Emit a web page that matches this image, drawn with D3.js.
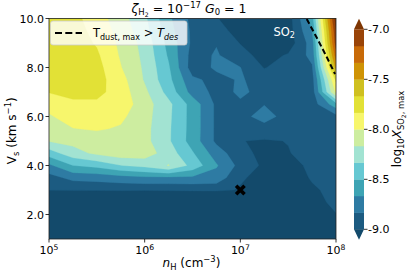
<!DOCTYPE html>
<html><head><meta charset="utf-8">
<script src="https://cdn.jsdelivr.net/npm/d3@7"></script>
<style>html,body{margin:0;padding:0;background:#fff;} svg{display:block;font-family:"DejaVu Sans",sans-serif;}</style>
</head><body><svg id="c" width="407" height="273"></svg>
<script>
// ---- data ----
const logNH = [5, 5.25, 5.5, 5.75, 6, 6.25, 6.5, 6.75, 7, 7.25, 7.5, 7.75, 8];
const vsGrid = [1, 1.5, 2, 2.5, 3, 3.5, 4, 4.5, 5, 5.5, 6, 6.5, 7, 7.5, 8, 8.5, 9, 9.5, 10];
const logXSO2 = [
  [-9.5,-9.5,-9.5,-9.5,-9.5,-9.5,-9.5,-9.5,-9.5,-9.5,-9.5,-9.167,-9.083],
  [-9.5,-9.5,-9.5,-9.5,-9.5,-9.5,-9.5,-9.5,-9.5,-9.5,-9.5,-9.167,-9.083],
  [-9.5,-9.5,-9.5,-9.5,-9.5,-9.5,-9.5,-9.5,-9.5,-9.5,-9.5,-9.133,-9.005],
  [-9.5,-9.5,-9.5,-9.5,-9.5,-9.5,-9.5,-9.5,-9.5,-9.5,-9.333,-9.05,-8.967],
  [-8.992,-8.983,-8.975,-8.967,-8.975,-8.967,-8.958,-8.95,-9.017,-9.083,-9.1,-9.025,-8.95],
  [-8.9,-8.783,-8.767,-8.733,-8.7,-8.7,-8.7,-8.733,-8.975,-9.067,-9.1,-8.983,-8.933],
  [-8.7,-8.502,-8.45,-8.337,-8.283,-8.158,-8.388,-8.65,-8.887,-9.033,-9.083,-8.95,-8.917],
  [-8.417,-8.233,-8.133,-8.067,-8.083,-8.248,-8.483,-8.75,-8.942,-9.05,-9.008,-8.942,-8.917],
  [-8.158,-8.117,-8.083,-8.042,-8.117,-8.31,-8.573,-8.867,-8.995,-9.017,-8.995,-8.933,-8.917],
  [-8.083,-8.005,-7.983,-8.017,-8.117,-8.308,-8.567,-8.867,-8.9,-8.883,-8.9,-8.908,-8.9],
  [-8.017,-7.933,-7.917,-7.967,-8.105,-8.3,-8.567,-8.867,-8.875,-8.783,-8.883,-8.9,-8.883],
  [-7.95,-7.867,-7.867,-7.9,-8.093,-8.292,-8.567,-8.867,-8.85,-8.838,-8.883,-8.917,-8.567],
  [-7.825,-7.783,-7.783,-7.917,-8.13,-8.392,-8.733,-8.883,-8.813,-8.867,-8.917,-8.917,-7.967],
  [-7.767,-7.75,-7.767,-7.937,-8.183,-8.453,-8.8,-8.883,-8.817,-8.9,-8.917,-8.9,-7.8],
  [-7.733,-7.742,-7.775,-7.992,-8.195,-8.48,-8.917,-8.808,-8.83,-9.008,-8.933,-8.85,-7.45],
  [-7.725,-7.733,-7.808,-8.02,-8.21,-8.522,-8.9,-8.817,-8.933,-9.067,-8.983,-8.783,-7.25],
  [-7.733,-7.75,-7.85,-8.038,-8.227,-8.555,-8.867,-8.842,-9.008,-9.083,-9.1,-8.75,-7.083],
  [-7.733,-7.767,-7.883,-8.067,-8.267,-8.6,-8.867,-8.933,-9.067,-9.1,-9.083,-8.665,-7.017],
  [-7.75,-7.783,-7.917,-8.1,-8.3,-8.633,-8.883,-8.992,-9.083,-9.1,-9.083,-8.583,-6.9]
];
const levels = [-9, -8.8333, -8.6667, -8.5, -8.3333, -8.1667, -8, -7.8333, -7.6667, -7.5, -7.3333, -7.1667, -7];
const levelColors = ["#1c5b81","#2e7ba3","#3ea4b4","#66c8d2","#a2e3d2","#cdeda0","#f7f66c","#e2e136","#cfc020","#cf9305","#c86a08","#9a4408"];
const underColor = "#134a6b";
const overColor = "#7e3603";
const xTicks = [1e5, 1e6, 1e7, 1e8];
const xTickExp = ["5", "6", "7", "8"];
const yTicks = [2, 4, 6, 8, 10];
const cbTicks = [-9, -8.5, -8, -7.5, -7];
const markerNH = [1e7], markerVs = [3];
const desNH = [10**7.694, 10**7.812, 10**7.903, 10**7.99];
const desVs = [9.98, 9.12, 8.43, 7.73];

// ---- layout ----
const svg = d3.select("#c");
const L = 49, R = 336, T = 18.5, B = 239;
const x = d3.scaleLog().domain([1e5, 1e8]).range([L, R]);
const y = d3.scaleLinear().domain([1, 10]).range([B, T]);
const FS = 11;

function rich(sel, segs) {
  let prev = 0;
  segs.forEach(s => {
    const sh = s.sh || 0;
    const t = sel.append("tspan").text(s.t).attr("dy", (sh - prev) + "px");
    prev = sh;
    if (s.fs) t.attr("font-size", s.fs);
    if (s.it) t.attr("font-style", "italic");
  });
  return sel;
}

// contours
const nx = logNH.length, ny = vsGrid.length;
const gx = d3.scaleLinear().domain(d3.range(nx).map(i => i + 0.5)).range(logNH);
const gy = d3.scaleLinear().domain(d3.range(ny).map(i => i + 0.5)).range(vsGrid);
const tr = d3.geoTransform({point(px, py) { this.stream.point(x(Math.pow(10, gx(px))), y(gy(py))); }});
const path = d3.geoPath(tr);
const contours = d3.contours().size([nx, ny]).thresholds(levels)(logXSO2.flat());

svg.append("clipPath").attr("id", "clip").append("rect").attr("x", L).attr("y", T).attr("width", R - L).attr("height", B - T);
const plot = svg.append("g").attr("clip-path", "url(#clip)");
plot.append("rect").attr("x", L).attr("y", T).attr("width", R - L).attr("height", B - T).attr("fill", underColor);
plot.selectAll("path.c").data(contours).join("path").attr("class", "c")
  .attr("d", path)
  .attr("fill", (d, i) => i < levelColors.length ? levelColors[i] : overColor)
  .attr("stroke", (d, i) => i < levelColors.length ? levelColors[i] : overColor)
  .attr("stroke-width", 0.3);

// dashed desorption line
plot.append("path").datum(desNH.map((n, i) => [n, desVs[i]]))
  .attr("d", d3.line().x(d => x(d[0])).y(d => y(d[1])))
  .attr("fill", "none").attr("stroke", "#000").attr("stroke-width", 2).attr("stroke-dasharray", "5.5,3");

// marker X
const mk = svg.append("g");
markerNH.forEach((n, i) => {
  const cx = x(n), cy = y(markerVs[i]), r = 4.2;
  mk.append("path").attr("d", `M${cx - r},${cy - r}L${cx + r},${cy + r}M${cx - r},${cy + r}L${cx + r},${cy - r}`)
    .attr("stroke", "#000").attr("stroke-width", 3.6);
});

// SO2 label
rich(svg.append("text").attr("x", 273.5).attr("y", 35.5).attr("fill", "#fff").attr("font-size", 11.5),
  [{t: "SO"}, {t: "2", fs: 8, sh: 2.5}]);

// frame
svg.append("rect").attr("x", L).attr("y", T).attr("width", R - L).attr("height", B - T)
  .attr("fill", "none").attr("stroke", "#222").attr("stroke-width", 0.8);

// axes ticks
const ax = svg.append("g").attr("font-size", FS).attr("fill", "#000");
xTicks.forEach((t, i) => {
  ax.append("line").attr("x1", x(t)).attr("x2", x(t)).attr("y1", B).attr("y2", B + 3.5).attr("stroke", "#000").attr("stroke-width", 0.8);
  rich(ax.append("text").attr("x", x(t)).attr("y", B + 15).attr("text-anchor", "middle"),
    [{t: "10"}, {t: xTickExp[i], fs: 7.7, sh: -4.5}]);
});
yTicks.forEach(t => {
  ax.append("line").attr("x1", L - 3.5).attr("x2", L).attr("y1", y(t)).attr("y2", y(t)).attr("stroke", "#000").attr("stroke-width", 0.8);
  ax.append("text").attr("x", L - 5).attr("y", y(t) + 4).attr("text-anchor", "end").text(t.toFixed(1));
});

// axis labels
rich(svg.append("text").attr("x", 191.5).attr("y", 267).attr("text-anchor", "middle").attr("font-size", 12),
  [{t: "n", it: true}, {t: "H", fs: 8.4, sh: 2.7}, {t: " (cm"}, {t: "−3", fs: 8.4, sh: -4.8}, {t: ")"}]);
rich(svg.append("text").attr("transform", `translate(16,${(T + B) / 2 + 2}) rotate(-90)`).attr("text-anchor", "middle").attr("font-size", 12),
  [{t: "V"}, {t: "s", fs: 8.4, sh: 2.7}, {t: " (km s"}, {t: "−1", fs: 8.4, sh: -4.8}, {t: ")"}]);
rich(svg.append("text").attr("x", 189).attr("y", 12.5).attr("text-anchor", "middle").attr("font-size", 12.5),
  [{t: "ζ", it: true}, {t: "H", fs: 8.5, sh: 2.7}, {t: "2", fs: 6.2, sh: 4.3}, {t: " = 10"}, {t: "−17", fs: 8.5, sh: -4.8},
   {t: " "}, {t: "G", it: true}, {t: "0", fs: 8.5, sh: 2.7}, {t: " = 1"}]);

// legend
const lg = svg.append("g");
lg.append("rect").attr("x", 50.5).attr("y", 21).attr("width", 136.5).attr("height", 24).attr("rx", 2.5)
  .attr("fill", "#fff").attr("fill-opacity", 0.8).attr("stroke", "#ccc").attr("stroke-width", 0.8);
lg.append("line").attr("x1", 55).attr("x2", 82).attr("y1", 33).attr("y2", 33)
  .attr("stroke", "#000").attr("stroke-width", 2).attr("stroke-dasharray", "7,3.3");
rich(lg.append("text").attr("x", 93).attr("y", 37).attr("font-size", 11.5),
  [{t: "T"}, {t: "dust, max", fs: 8, sh: 2.6}, {t: " > "}, {t: "T", it: true}, {t: "des", fs: 8, sh: 2.6, it: true}]);

// colorbar
const cbx = 354, cbw = 10;
const cy = d3.scaleLinear().domain([-9, -7]).range([229.3, 29.3]);
const cb = svg.append("g");
levelColors.forEach((c, i) => {
  cb.append("rect").attr("x", cbx).attr("y", cy(levels[i + 1])).attr("width", cbw)
    .attr("height", cy(levels[i]) - cy(levels[i + 1]) + 0.3).attr("fill", c);
});
cb.append("path").attr("d", `M${cbx},${cy(-7)}L${cbx + cbw / 2},${cy(-7) - 10.5}L${cbx + cbw},${cy(-7)}Z`).attr("fill", overColor);
cb.append("path").attr("d", `M${cbx},${cy(-9)}L${cbx + cbw / 2},${cy(-9) + 10.5}L${cbx + cbw},${cy(-9)}Z`).attr("fill", underColor);
cbTicks.forEach(t => {
  cb.append("line").attr("x1", cbx + cbw).attr("x2", cbx + cbw + 3.5).attr("y1", cy(t)).attr("y2", cy(t)).attr("stroke", "#000").attr("stroke-width", 0.8);
  cb.append("text").attr("x", cbx + cbw + 4).attr("y", cy(t) + 4).attr("font-size", FS).text(t.toFixed(1));
});
rich(svg.append("text").attr("transform", `translate(401,129) rotate(-90)`).attr("text-anchor", "middle").attr("font-size", 12),
  [{t: "log"}, {t: "10", fs: 8.4, sh: 2.8}, {t: "X", it: true}, {t: "SO", fs: 8.4, sh: 2.8}, {t: "2", fs: 6, sh: 4.5}, {t: ", max", fs: 8.4, sh: 2.8}]);
</script></body></html>
